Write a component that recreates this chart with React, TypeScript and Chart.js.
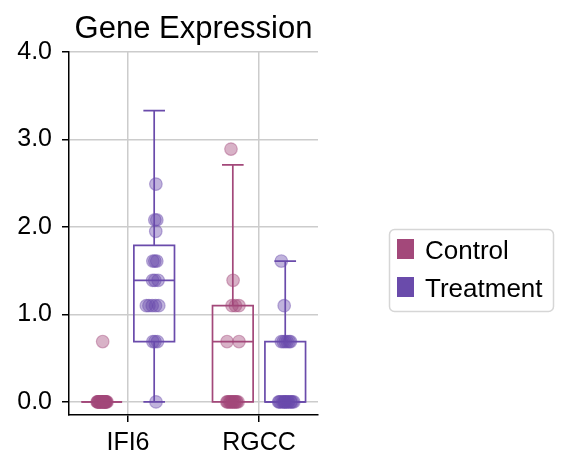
import React, { useEffect, useRef } from "react";
import { Chart, registerables } from "chart.js";

Chart.register(...registerables);

const TITLE = "Gene Expression";
const CATEGORIES = ["IFI6", "RGCC"];
const GROUPS = ["Control", "Treatment"];
const GROUP_COLORS = ["#a3487a", "#6a4bab"];
const GROUP_FILLS = ["rgba(163,72,122,0.42)", "rgba(106,75,171,0.42)"];
const Y_TICKS = [0, 1, 2, 3, 4];
const GROUP_OFFSETS = [-0.2, 0.2];

// strip-plot points (log-expression) and their horizontal jitter, per gene and group
const ifi6ControlValues = [0, 0, 0, 0, 0, 0, 0, 0, 0, 0, 0, 0, 0, 0, 0, 0, 0, 0, 0, 0.69];
const ifi6ControlJitter = [-0.03, 0.02, -0.01, 0.035, -0.025, 0.005, 0.03, -0.035, 0.015, -0.005, 0.025, -0.02, 0.04, 0.0, -0.015, 0.01, 0.03, -0.03, 0.02, 0.007];

const ifi6TreatmentValues = [0, 0.69, 0.69, 0.69, 1.1, 1.1, 1.1, 1.1, 1.1, 1.39, 1.39, 1.39, 1.61, 1.61, 1.61, 1.95, 2.08, 2.08, 2.49];
const ifi6TreatmentJitter = [0.014, -0.01, 0.006, 0.025, -0.06, -0.04, -0.015, 0.01, 0.035, -0.012, 0.005, 0.03, -0.01, 0.005, 0.02, 0.012, 0.005, 0.02, 0.013];

const rgccControlValues = [0, 0, 0, 0, 0, 0, 0, 0, 0, 0, 0, 0, 0.69, 0.69, 1.1, 1.1, 1.1, 1.39, 2.89];
const rgccControlJitter = [-0.045, -0.03, -0.015, 0.0, 0.015, 0.03, 0.04, -0.04, -0.02, 0.01, 0.025, -0.005, -0.044, 0.047, -0.006, 0.02, 0.047, 0.002, -0.014];

const rgccTreatmentValues = [0, 0, 0, 0, 0, 0, 0, 0, 0, 0, 0, 0, 0, 0, 0.69, 0.69, 0.69, 0.69, 0.69, 0.69, 1.1, 1.61];
const rgccTreatmentJitter = [-0.05, -0.035, -0.02, -0.005, 0.01, 0.025, 0.04, 0.055, 0.065, -0.045, -0.01, 0.02, 0.045, 0.0, -0.03, -0.015, 0.0, 0.015, 0.03, 0.04, -0.008, -0.03];

// box-plot summaries per gene [IFI6, RGCC]
const controlQ1 = [0, 0];
const controlMedian = [0, 0.69];
const controlQ3 = [0, 1.1];
const controlLow = [0, 0];
const controlHigh = [0, 2.71];

const treatmentQ1 = [0.69, 0];
const treatmentMedian = [1.39, 0];
const treatmentQ3 = [1.79, 0.69];
const treatmentLow = [0, 0];
const treatmentHigh = [3.33, 1.61];

const BOX_WIDTH = 0.31;
const CAP_WIDTH = 0.165;
const FONT = "'Liberation Sans', Arial, sans-serif";

function points(values: number[], jitter: number[], cat: number, group: number) {
  return values.map((v, i) => ({ x: cat + GROUP_OFFSETS[group] + jitter[i], y: v }));
}

const boxStats = [
  { q1: controlQ1, med: controlMedian, q3: controlQ3, lo: controlLow, hi: controlHigh },
  { q1: treatmentQ1, med: treatmentMedian, q3: treatmentQ3, lo: treatmentLow, hi: treatmentHigh },
];

const boxPlugin = {
  id: "boxes",
  beforeDatasetsDraw(chart: any) {
    const { ctx, scales } = chart;
    const xs = scales.x;
    const ys = scales.y;
    ctx.save();
    ctx.lineWidth = 1.7;
    boxStats.forEach((s, g) => {
      ctx.strokeStyle = GROUP_COLORS[g];
      CATEGORIES.forEach((_, c) => {
        const cx = c + GROUP_OFFSETS[g];
        const x0 = xs.getPixelForValue(cx - BOX_WIDTH / 2);
        const x1 = xs.getPixelForValue(cx + BOX_WIDTH / 2);
        const xm = xs.getPixelForValue(cx);
        const c0 = xs.getPixelForValue(cx - CAP_WIDTH / 2);
        const c1 = xs.getPixelForValue(cx + CAP_WIDTH / 2);
        const yq1 = ys.getPixelForValue(s.q1[c]);
        const yq3 = ys.getPixelForValue(s.q3[c]);
        const ymed = ys.getPixelForValue(s.med[c]);
        const ylo = ys.getPixelForValue(s.lo[c]);
        const yhi = ys.getPixelForValue(s.hi[c]);
        ctx.beginPath();
        ctx.rect(x0, yq3, x1 - x0, yq1 - yq3);
        ctx.stroke();
        ctx.beginPath();
        ctx.moveTo(x0, ymed);
        ctx.lineTo(x1, ymed);
        ctx.moveTo(xm, yq3);
        ctx.lineTo(xm, yhi);
        ctx.moveTo(xm, yq1);
        ctx.lineTo(xm, ylo);
        ctx.moveTo(c0, yhi);
        ctx.lineTo(c1, yhi);
        ctx.moveTo(c0, ylo);
        ctx.lineTo(c1, ylo);
        ctx.stroke();
      });
    });
    ctx.restore();
  },
};

const decorPlugin = {
  id: "decor",
  afterDraw(chart: any) {
    const { ctx, chartArea } = chart;
    ctx.save();
    // title
    ctx.fillStyle = "#000";
    ctx.font = `31px ${FONT}`;
    ctx.textAlign = "center";
    ctx.textBaseline = "alphabetic";
    ctx.fillText(TITLE, (chartArea.left + chartArea.right) / 2, 37.5);
    // legend
    const lx = 389.5, ly = 229.5, lw = 164, lh = 82, r = 5;
    ctx.beginPath();
    ctx.moveTo(lx + r, ly);
    ctx.lineTo(lx + lw - r, ly);
    ctx.arcTo(lx + lw, ly, lx + lw, ly + r, r);
    ctx.lineTo(lx + lw, ly + lh - r);
    ctx.arcTo(lx + lw, ly + lh, lx + lw - r, ly + lh, r);
    ctx.lineTo(lx + r, ly + lh);
    ctx.arcTo(lx, ly + lh, lx, ly + lh - r, r);
    ctx.lineTo(lx, ly + r);
    ctx.arcTo(lx, ly, lx + r, ly, r);
    ctx.closePath();
    ctx.fillStyle = "rgba(255,255,255,0.8)";
    ctx.fill();
    ctx.strokeStyle = "#d6d6d6";
    ctx.lineWidth = 1.5;
    ctx.stroke();
    ctx.font = `26px ${FONT}`;
    ctx.textAlign = "left";
    GROUPS.forEach((name, i) => {
      const top = 239 + i * 38;
      ctx.fillStyle = GROUP_COLORS[i];
      ctx.fillRect(397, top, 17, 20);
      ctx.fillStyle = "#000";
      ctx.fillText(name, 425, top + 19.5);
    });
    ctx.restore();
  },
};

export default function App() {
  const ref = useRef<HTMLCanvasElement | null>(null);
  useEffect(() => {
    if (!ref.current) return;
    const datasets = GROUPS.map((name, g) => {
      const data =
        g === 0
          ? [...points(ifi6ControlValues, ifi6ControlJitter, 0, 0), ...points(rgccControlValues, rgccControlJitter, 1, 0)]
          : [...points(ifi6TreatmentValues, ifi6TreatmentJitter, 0, 1), ...points(rgccTreatmentValues, rgccTreatmentJitter, 1, 1)];
      return {
        label: name,
        data,
        backgroundColor: GROUP_FILLS[g],
        borderColor: GROUP_FILLS[g],
        borderWidth: 1.2,
        pointRadius: 6.3,
        pointHoverRadius: 6.3,
      };
    });
    const chart = new Chart(ref.current, {
      type: "scatter",
      data: { datasets },
      options: {
        animation: false,
        responsive: false,
        devicePixelRatio: 1,
        events: [],
        layout: { padding: { top: 52, right: 252, bottom: 0, left: 0 } },
        plugins: { legend: { display: false }, title: { display: false }, tooltip: { enabled: false } },
        scales: {
          x: {
            type: "linear",
            min: -0.45,
            max: 1.45,
            afterBuildTicks: (axis: any) => {
              axis.ticks = CATEGORIES.map((_, i) => ({ value: i }));
            },
            afterFit: (scale: any) => {
              scale.height = 57;
            },
            ticks: {
              callback: (v: any) => CATEGORIES[Math.round(Number(v))] ?? "",
              autoSkip: false,
              maxRotation: 0,
              padding: 6,
              color: "#000",
              font: { family: FONT, size: 25 },
            },
            grid: { color: "#cccccc", lineWidth: 1.5, tickColor: "#000", tickLength: 7, tickWidth: 1.5 },
            border: { color: "#000", width: 1.5 },
          },
          y: {
            type: "linear",
            min: -0.15,
            max: 4.0,
            afterBuildTicks: (axis: any) => {
              axis.ticks = Y_TICKS.map((v) => ({ value: v }));
            },
            afterFit: (scale: any) => {
              scale.width = 69;
            },
            ticks: {
              callback: (v: any) => Number(v).toFixed(1),
              padding: 10,
              color: "#000",
              font: { family: FONT, size: 25 },
            },
            grid: { color: "#cccccc", lineWidth: 1.5, tickColor: "#000", tickLength: 7, tickWidth: 1.5 },
            border: { color: "#000", width: 1.5 },
          },
        },
      },
      plugins: [boxPlugin, decorPlugin],
    });
    return () => chart.destroy();
  }, []);
  return (
    <div style={{ position: "absolute", left: 0, top: 0, width: 570, height: 472, background: "#fff" }}>
      <canvas ref={ref} width={570} height={472} style={{ display: "block", width: 570, height: 472 }} />
    </div>
  );
}
